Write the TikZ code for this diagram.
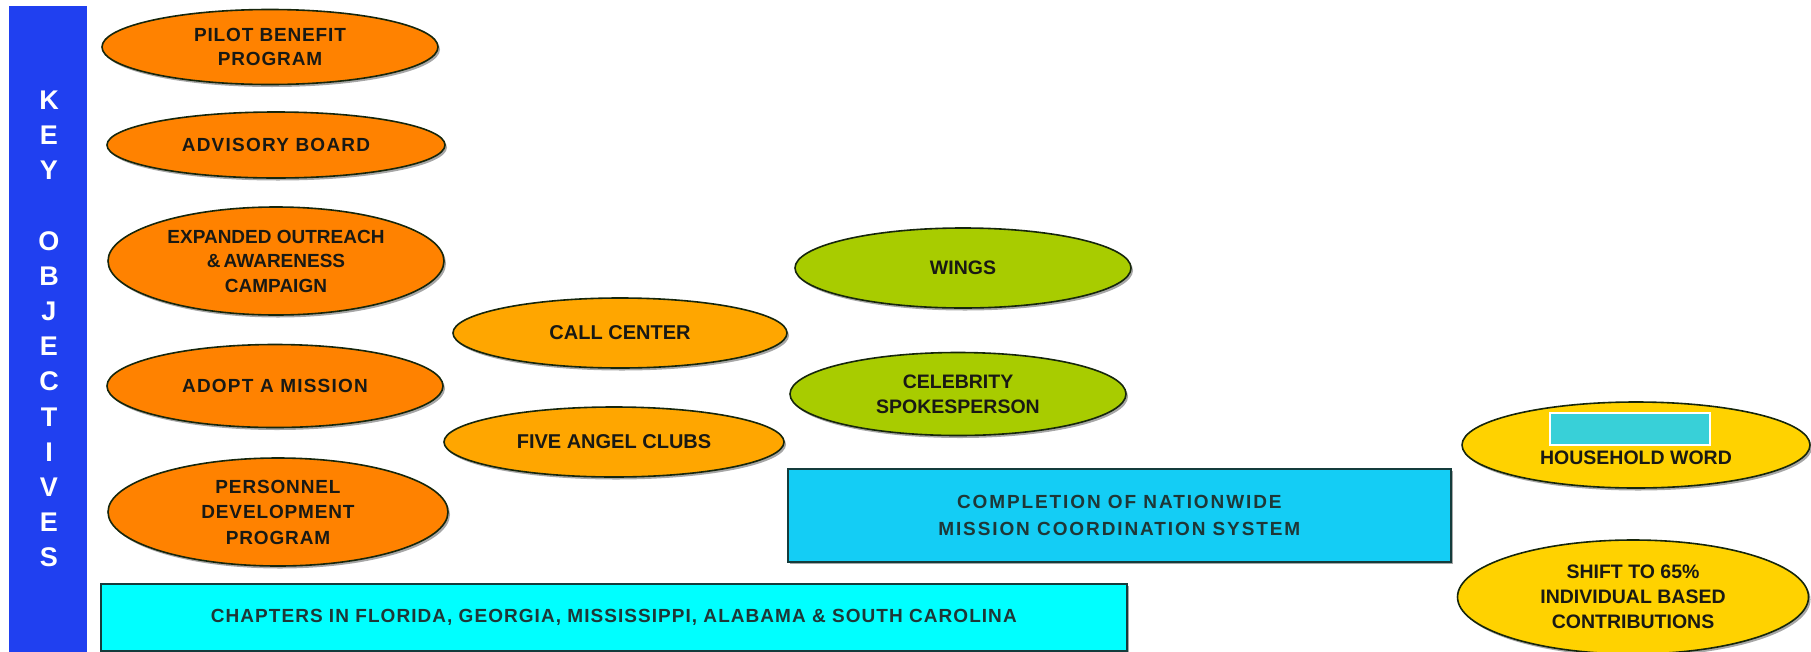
\documentclass[tikz,border=0pt]{standalone}
\usepackage{fontspec}
\setmainfont{Liberation Sans}
\newfontfamily\spacedlow{Liberation Sans}[LetterSpace=4.5]
\newfontfamily\spacedmid{Liberation Sans}[LetterSpace=5.5]
\newfontfamily\spacedwide{Liberation Sans}[LetterSpace=6.5]
\newfontfamily\spacedmax{Liberation Sans}[LetterSpace=10]
\usetikzlibrary{shapes.geometric,shadows}
\definecolor{keyblue}{RGB}{32,64,240}
\definecolor{dkorange}{RGB}{255,130,0}
\definecolor{ltorange}{RGB}{255,166,0}
\definecolor{lime}{RGB}{168,204,0}
\definecolor{gold}{RGB}{255,210,0}
\definecolor{aqua}{RGB}{0,255,255}
\definecolor{sky}{RGB}{20,205,245}
\definecolor{tealbox}{RGB}{56,208,216}
\definecolor{edge}{RGB}{22,38,12}
\definecolor{redge}{RGB}{20,60,60}
\definecolor{ink}{RGB}{25,25,20}
\definecolor{rink}{RGB}{30,55,55}
\begin{document}
\begin{tikzpicture}[x=1pt,y=-1pt,
  shade/.style={drop shadow={shadow xshift=2pt,shadow yshift=-2.5pt,fill=black,opacity=.35}},
  oval/.style={ellipse,draw=edge,line width=1.6pt,inner sep=0pt,align=center,text=ink,
    font=\bfseries\fontsize{19}{24.5}\selectfont,shade},
  leftoval/.style={oval,fill=dkorange},
  midoval/.style={oval,fill=ltorange,font=\bfseries\fontsize{20}{25}\selectfont},
  greenoval/.style={oval,fill=lime,font=\bfseries\fontsize{19.5}{25}\selectfont},
  goldoval/.style={oval,fill=gold,font=\bfseries\fontsize{19.5}{25}\selectfont},
  bigbox/.style={rectangle,draw=redge,line width=1.6pt,inner sep=0pt,anchor=north west,
    align=center,text=rink,shade},
  txt/.style={inner sep=0pt,align=center,text=ink,font=\bfseries\fontsize{19.5}{25}\selectfont}]
\useasboundingbox (0,0) rectangle (1811,651);
% key objectives bar
\node[fill=keyblue,inner sep=0pt,minimum width=78pt,minimum height=646pt,anchor=north west] (bar) at (9,6) {};
\node[text=white,align=center,inner sep=0pt,font=\bfseries\fontsize{27}{35.2}\selectfont] (keyobj) at (49,329)
  {K\\E\\Y\\[35.2pt]O\\B\\J\\E\\C\\T\\I\\V\\E\\S};
% left column
\node[leftoval,minimum width=336pt,minimum height=75pt,font=\spacedlow\bfseries\fontsize{19}{24.5}\selectfont] (pilot) at (270,47) {PILOT BENEFIT\\PROGRAM};
\node[leftoval,minimum width=338pt,minimum height=66pt,font=\spacedwide\bfseries\fontsize{19}{24.5}\selectfont] (advisory) at (276,145) {ADVISORY BOARD};
\node[leftoval,minimum width=336pt,minimum height=108pt] (outreach) at (276,261) {EXPANDED OUTREACH\\\&\,AWARENESS\\CAMPAIGN};
\node[leftoval,minimum width=336pt,minimum height=83pt,font=\spacedwide\bfseries\fontsize{19}{24.5}\selectfont] (adopt) at (275,386) {ADOPT A MISSION};
\node[leftoval,minimum width=340pt,minimum height=108pt,font=\spacedlow\bfseries\fontsize{19}{25.5}\selectfont] (personnel) at (278,512) {PERSONNEL\\DEVELOPMENT\\PROGRAM};
% middle column
\node[midoval,minimum width=334pt,minimum height=70pt] (call) at (620,333) {CALL CENTER};
\node[midoval,minimum width=340pt,minimum height=70pt] (angel) at (614,442) {FIVE ANGEL CLUBS};
\node[greenoval,minimum width=336pt,minimum height=80pt] (wings) at (963,268) {WINGS};
\node[greenoval,minimum width=336pt,minimum height=83pt] (celeb) at (958,394) {CELEBRITY\\SPOKESPERSON};
% boxes
\node[bigbox,fill=aqua,minimum width=1026pt,minimum height=67pt,font=\spacedmid\bfseries\fontsize{19}{26.5}\selectfont] (chapters) at (100,583)
  {CHAPTERS IN FLORIDA, GEORGIA, MISSISSIPPI, ALABAMA \& SOUTH CAROLINA};
\node[bigbox,fill=sky,minimum width=663pt,minimum height=93pt,font=\spacedmax\bfseries\fontsize{19}{26.5}\selectfont] (completion) at (787,468)
  {COMPLETION OF NATIONWIDE\\MISSION COORDINATION SYSTEM};
% right column
\node[goldoval,minimum width=348pt,minimum height=86pt] (household) at (1636,445) {};
\node[rectangle,fill=tealbox,draw=white,line width=1.5pt,inner sep=0pt,minimum width=160pt,minimum height=32pt] (tealmark) at (1630,429) {};
\node[txt] (hhtext) at (1636,458) {HOUSEHOLD WORD};
\node[goldoval,minimum width=351pt,minimum height=114pt] (shift) at (1633,597) {SHIFT TO 65\%\\INDIVIDUAL BASED\\CONTRIBUTIONS};
\end{tikzpicture}
\end{document}
